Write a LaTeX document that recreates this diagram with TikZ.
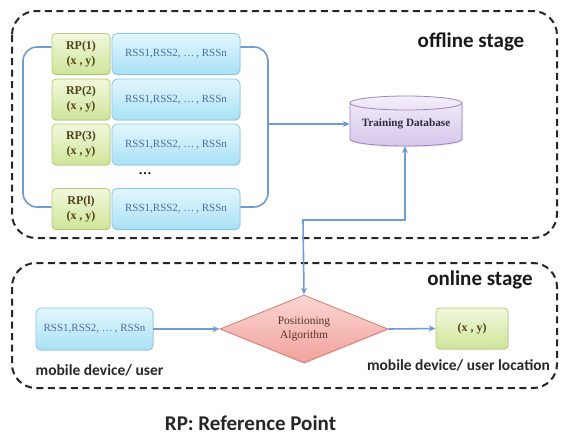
\documentclass[tikz,border=0pt]{standalone}
\usepackage{fontspec}
\setmainfont{Liberation Serif}
\newfontfamily\labelfont{Carlito}
\usetikzlibrary{arrows.meta,shapes.geometric,shadows}

\definecolor{flow}{HTML}{6F9DD2}
\definecolor{rpedge}{HTML}{B3CC73}
\definecolor{rptop}{HTML}{F1F8DC}
\definecolor{rpbot}{HTML}{CFE49A}
\definecolor{rptext}{HTML}{4F4418}
\definecolor{rssedge}{HTML}{86C8E2}
\definecolor{rsstop}{HTML}{E2F6FD}
\definecolor{rssbot}{HTML}{A9E1F6}
\definecolor{rsstext}{HTML}{4D6FA6}
\definecolor{dbedge}{HTML}{9C84C2}
\definecolor{dbtop}{HTML}{F4EEFA}
\definecolor{dbbot}{HTML}{D6C6EA}
\definecolor{dbtext}{HTML}{2E2A48}
\definecolor{algedge}{HTML}{D87A74}
\definecolor{algtop}{HTML}{FAD6D3}
\definecolor{algbot}{HTML}{F2A29C}
\definecolor{algtext}{HTML}{5A3426}

\tikzset{
  softshadow/.style={drop shadow={opacity=0.18, shadow xshift=0.8pt, shadow yshift=-1.2pt}},
  rpbox/.style={draw=rpedge, line width=0.8pt, rounded corners=4pt,
    top color=rptop, bottom color=rpbot, minimum width=58pt, minimum height=41pt,
    inner sep=1pt, align=center, text=rptext, softshadow,
    font=\bfseries\fontsize{12}{15}\selectfont},
  rssbox/.style={draw=rssedge, line width=0.8pt, rounded corners=5pt,
    top color=rsstop, bottom color=rssbot, minimum width=128pt, minimum height=41pt,
    inner sep=1pt, text=rsstext, softshadow, font=\fontsize{11}{13}\selectfont},
  stagebox/.style={draw=black!85, line width=2pt, dash pattern=on 7pt off 4.5pt,
    rounded corners=24pt},
  flowline/.style={draw=flow, line width=1.6pt},
  flowarrow/.style={flowline, -{Stealth[length=7pt,width=6pt]}},
  caption/.style={font=\labelfont\bfseries\fontsize{15.5}{18}\selectfont, text=black!85},
  stagetitle/.style={font=\labelfont\bfseries\fontsize{21}{24}\selectfont, text=black!90},
}

\begin{document}
\begin{tikzpicture}[x=1pt,y=-1pt]
\useasboundingbox (0,0) rectangle (563,437);

% stage frames
\draw[stagebox] (12,11) rectangle (557,238);
\draw[stagebox] (12,263) rectangle (557,388);
\node[stagetitle] (offtitle) at (471,42) {offline stage};
\node[stagetitle] (ontitle) at (480,280) {online stage};

% fingerprint table
\node[rpbox] (rp1) at (81,54) {RP(1)\\(x , y)};
\node[rpbox] (rp2) at (81,99.5) {RP(2)\\(x , y)};
\node[rpbox] (rp3) at (81,144.5) {RP(3)\\(x , y)};
\node[rpbox] (rpl) at (81,209) {RP(l)\\(x , y)};
\node[rssbox] (rss1) at (176,54) {RSS1,RSS2, …\,, RSSn};
\node[rssbox] (rss2) at (176,99.5) {RSS1,RSS2, …\,, RSSn};
\node[rssbox] (rss3) at (176,144.5) {RSS1,RSS2, …\,, RSSn};
\node[rssbox] (rssl) at (176,209) {RSS1,RSS2, …\,, RSSn};
\node[font=\bfseries\fontsize{13}{13}\selectfont] (dots) at (145,174) {…};

% brackets grouping the table
\coordinate (lt) at (rp1.west |- 0,47);
\coordinate (lb) at (rpl.west |- 0,207);
\coordinate (rt) at (rss1.east |- 0,47);
\coordinate (rb) at (rssl.east |- 0,207);
\draw[flowline, rounded corners=14pt] (lt) -- (23,47) -- (23,207) -- (lb);
\draw[flowline, rounded corners=14pt] (rt) -- (268,47) -- (268,207) -- (rb);
\coordinate (tap) at (268,124);

% training database (cylinder)
\node[minimum width=112pt, minimum height=50pt, inner sep=0pt] (db) at (406,121) {};
\path[draw=dbedge, line width=0.8pt, top color=dbtop, bottom color=dbbot, softshadow]
  (350,103) -- (350,139) arc[start angle=180, end angle=0, x radius=56, y radius=7]
  -- (462,103) arc[start angle=0, end angle=-180, x radius=56, y radius=7] -- cycle;
\draw[dbedge, line width=0.8pt] (350,103) arc[start angle=180, end angle=0, x radius=56, y radius=7];
\node[font=\bfseries\fontsize{11.2}{13}\selectfont, text=dbtext] (dblabel) at (406,124) {Training Database};
\draw[flowarrow] (tap) -- (tap -| db.west);

% online stage
\node[rssbox, minimum width=117pt, minimum height=42pt] (rssm) at (94.5,329) {RSS1,RSS2, …\,, RSSn};
\node[diamond, draw=algedge, line width=0.8pt, top color=algtop, bottom color=algbot,
  minimum width=168pt, minimum height=68pt, aspect=2.47, inner sep=0pt, softshadow,
  align=center, text=algtext, font=\fontsize{11.5}{14}\selectfont] (alg) at (304,329)
  {Positioning\\Algorithm};
\node[rpbox, minimum width=72pt, minimum height=41pt] (loc) at (472,328.5) {(x , y)};

\draw[flowarrow] (rssm.east) -- (alg.west);
\draw[flowarrow] (alg.east) -- (loc.west);
\draw[flowline, {Stealth[length=7pt,width=6pt]}-{Stealth[length=7pt,width=6pt]}]
  (alg.north) -- (303,220) -- (405,220) -- (405,146);

\node[caption] (userlbl) at (99.5,370) {mobile device/ user};
\node[caption] (loclbl) at (458.5,365) {mobile device/ user location};
\node[font=\labelfont\bfseries\fontsize{21}{24}\selectfont, text=black!85] (legend) at (250.5,423) {RP: Reference Point};
\end{tikzpicture}
\end{document}
